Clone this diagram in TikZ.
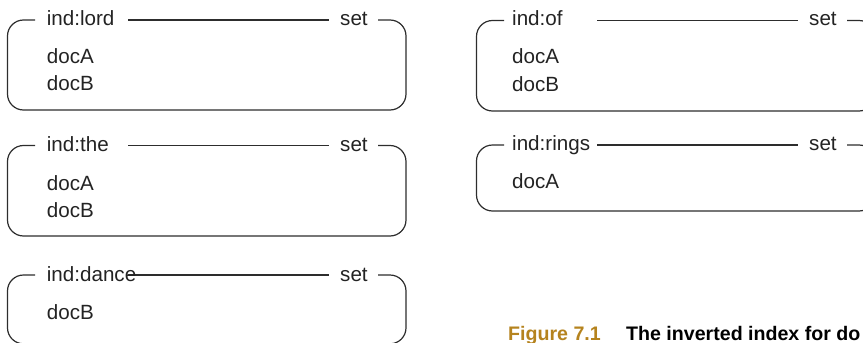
\documentclass[tikz,border=0pt]{standalone}
\usepackage{fontspec}
\setmainfont{Liberation Sans}
\definecolor{linegray}{RGB}{45,45,45}
\definecolor{textgray}{RGB}{35,35,35}
\definecolor{figgold}{RGB}{181,131,30}
\tikzset{
  boxline/.style={draw=linegray, line width=1.2pt},
  lbl/.style={anchor=base west, inner sep=0pt, text=textgray, font=\fontsize{20.6}{24}\selectfont},
  caplbl/.style={anchor=base west, inner sep=0pt, font=\fontsize{19.6}{24}\selectfont\bfseries},
}
% #1 left, #2 title-line y, #3 bottom y, #4 right
\newcommand\invbox[4]{%
  \draw[boxline, rounded corners=16pt] (#1+27.5,#2) -- (#1,#2) -- (#1,#3) -- (#4,#3) -- (#4,#2) -- (#4-28,#2);
  \draw[boxline] (#1+120.5,#2) -- (#1+321,#2);
}
\begin{document}
\begin{tikzpicture}[x=1pt,y=-1pt]
\useasboundingbox (0,0) rectangle (863,343);
\clip (0,0) rectangle (863,343);
% left column
\invbox{7.5}{20}{110}{406}
\node[lbl] (t1) at (46.7,25) {ind:lord};
\node[lbl] (s1) at (340,25) {set};
\node[lbl] (a1) at (46.7,63.3) {docA};
\node[lbl] (b1) at (46.7,90.7) {docB};

\invbox{7.5}{145.5}{236}{406}
\node[lbl] (t2) at (46.7,151) {ind:the};
\node[lbl] (s2) at (340,151) {set};
\node[lbl] (a2) at (46.7,190) {docA};
\node[lbl] (b2) at (46.7,217) {docB};

\invbox{7.5}{275}{343.8}{406}
\node[lbl] (t3) at (46.7,281) {ind:dance};
\node[lbl] (s3) at (340,281) {set};
\node[lbl] (b3) at (46.7,319) {docB};

% right column
\invbox{476.5}{20.5}{111}{875}
\node[lbl] (t4) at (512,25.5) {ind:of};
\node[lbl] (s4) at (809,25.5) {set};
\node[lbl] (a4) at (512,63.5) {docA};
\node[lbl] (b4) at (512,91) {docB};

\invbox{476.5}{145}{211}{875}
\node[lbl] (t5) at (512,150.5) {ind:rings};
\node[lbl] (s5) at (809,150.5) {set};
\node[lbl] (a5) at (512,188) {docA};

% caption
\node[caplbl, text=figgold] (fig) at (508,340) {Figure 7.1};
\node[caplbl, text=black] (cap) at (626,340) {The inverted index for do};
\end{tikzpicture}
\end{document}
